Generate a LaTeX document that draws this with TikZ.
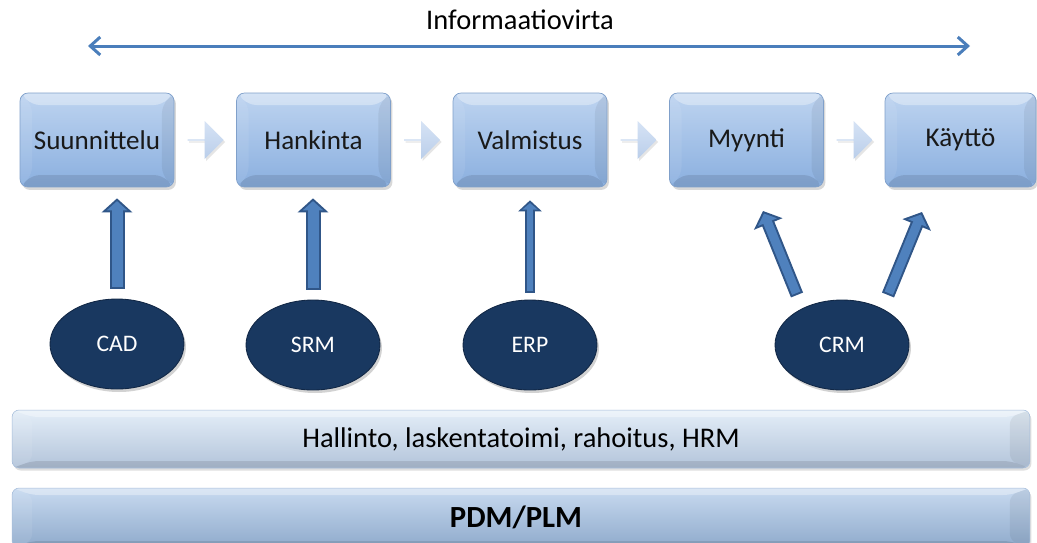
\documentclass[tikz,border=0pt]{standalone}
\usepackage{fontspec}
\setmainfont{Carlito}
\usetikzlibrary{arrows.meta,shapes.geometric,shapes.arrows,shadows,calc}

\definecolor{boxtop}{RGB}{190,212,240}
\definecolor{boxbot}{RGB}{138,175,223}
\definecolor{boxline}{RGB}{128,160,202}
\definecolor{navy}{RGB}{25,56,96}
\definecolor{navyline}{RGB}{18,40,70}
\definecolor{arrfill}{RGB}{79,129,189}
\definecolor{arrline}{RGB}{48,86,136}
\definecolor{infoblue}{RGB}{74,126,187}
\definecolor{lighttop}{RGB}{214,227,245}
\definecolor{lightbot}{RGB}{186,206,234}
\definecolor{barA}{RGB}{186,204,227}
\definecolor{barAtop}{RGB}{228,238,248}
\definecolor{barB}{RGB}{150,179,214}
\definecolor{barBtop}{RGB}{200,218,240}

\tikzset{
  bevel/.style 2 args={path picture={
    \coordinate (pNW) at (path picture bounding box.north west);
    \coordinate (pNE) at (path picture bounding box.north east);
    \coordinate (pSW) at (path picture bounding box.south west);
    \coordinate (pSE) at (path picture bounding box.south east);
    \fill[white,opacity=.35] (pNW) -- (pNE) -- ([shift={(-#1,-#2)}]pNE) -- ([shift={(#1,-#2)}]pNW) -- cycle;
    \fill[black,opacity=.10] (pSW) -- (pSE) -- ([shift={(-#1,#2)}]pSE) -- ([shift={(#1,#2)}]pSW) -- cycle;
    \fill[white,opacity=.08] (pNW) -- ([shift={(#1,-#2)}]pNW) -- ([shift={(#1,#2)}]pSW) -- (pSW) -- cycle;
    \fill[black,opacity=.06] (pNE) -- ([shift={(-#1,-#2)}]pNE) -- ([shift={(-#1,#2)}]pSE) -- (pSE) -- cycle;
  }},
  stagebox/.style={rectangle, rounded corners=0.16cm, minimum width=3.08cm,
    minimum height=1.88cm, top color=boxtop, bottom color=boxbot,
    draw=boxline, line width=0.4pt, bevel={0.24cm}{0.24cm},
    drop shadow={opacity=0.3, shadow xshift=0.04cm, shadow yshift=-0.06cm},
    font=\fontsize{15.4}{18}\selectfont, text=black!90},
  lightarrow/.style={single arrow, minimum height=0.72cm, minimum width=0.76cm,
    single arrow head extend=0.18cm, single arrow head indent=0pt, inner sep=0pt,
    top color=lighttop, bottom color=lightbot, draw=none,
    drop shadow={opacity=0.2, shadow xshift=0.03cm, shadow yshift=-0.04cm}},
  sysell/.style={ellipse, minimum width=2.68cm, minimum height=1.8cm, inner sep=0pt,
    fill=navy, draw=navyline, line width=0.5pt, text=white,
    font=\fontsize{13.5}{16}\selectfont,
    drop shadow={opacity=0.35, shadow xshift=0.04cm, shadow yshift=-0.06cm}},
  bigout/.style={draw=arrline, line width=0.3cm, -{Triangle[length=0.28cm,width=0.6cm]}},
  bigin/.style={draw=arrfill, line width=0.22cm, shorten <=0.04cm, shorten >=0.055cm,
    -{Triangle[length=0.185cm,width=0.4cm]}},
  smallout/.style={draw=arrline, line width=0.2cm, -{Triangle[length=0.22cm,width=0.46cm]}},
  smallin/.style={draw=arrfill, line width=0.12cm, shorten <=0.04cm, shorten >=0.055cm,
    -{Triangle[length=0.13cm,width=0.3cm]}},
  infarrow/.style={draw=infoblue, line width=0.06cm, line cap=round,
    {Straight Barb[length=0.2cm,width=0.36cm]}-{Straight Barb[length=0.2cm,width=0.36cm]}},
  bar/.style={rectangle, rounded corners=0.14cm, minimum width=20.36cm, inner sep=0pt,
    draw=boxline!70, line width=0.3pt,
    drop shadow={opacity=0.25, shadow xshift=0.03cm, shadow yshift=-0.05cm}},
}

\begin{document}
\begin{tikzpicture}[x=0.02cm, y=-0.02cm]
\useasboundingbox (0,0) rectangle (1037,542);
\fill[white] (0,0) rectangle (1037,542);

% information flow
\node[font=\fontsize{16.2}{19}\selectfont] (info) at (520,20) {Informaatiovirta};
\coordinate (infL) at (88,46);
\coordinate (infR) at (970,46);
\draw[infarrow] (infL) -- (infR);

% stage boxes
\node[stagebox] (suun) at (97,140) {Suunnittelu};
\node[stagebox] (hank) at (313.5,140) {Hankinta};
\node[stagebox] (valm) at (530,140) {Valmistus};
\node[stagebox] (myyn) at (746.5,140) {Myynti};
\node[stagebox, minimum width=3.02cm] (kayt) at (960.5,140) {Käyttö};

% small arrows between stages
\node[lightarrow] (a1) at ($(suun.east)!0.5!(hank.west)$) {};
\node[lightarrow] (a2) at ($(hank.east)!0.5!(valm.west)$) {};
\node[lightarrow] (a3) at ($(valm.east)!0.5!(myyn.west)$) {};
\node[lightarrow] (a4) at ($(myyn.east)!0.5!(kayt.west)$) {};

% systems
\node[sysell] (cad) at (117,344) {CAD};
\node[sysell] (srm) at (313,345) {SRM};
\node[sysell] (erp) at (530,345) {ERP};
\node[sysell] (crm) at (842,345) {CRM};

% fat arrows
\draw[bigout] ($(cad.north)+(0,0.2cm)$) -- ($(cad.north |- suun.south)+(0,-0.22cm)$);
\draw[bigin]  ($(cad.north)+(0,0.2cm)$) -- ($(cad.north |- suun.south)+(0,-0.22cm)$);
\draw[bigout] ($(srm.north)+(0,0.2cm)$) -- ($(srm.north |- hank.south)+(0,-0.22cm)$);
\draw[bigin]  ($(srm.north)+(0,0.2cm)$) -- ($(srm.north |- hank.south)+(0,-0.22cm)$);
\draw[smallout] ($(erp.north)+(0,0.14cm)$) -- ($(erp.north |- valm.south)+(0,-0.26cm)$);
\draw[smallin]  ($(erp.north)+(0,0.14cm)$) -- ($(erp.north |- valm.south)+(0,-0.26cm)$);
\coordinate (crmL) at (797,295);
\coordinate (myynT) at (763,211);
\coordinate (crmR) at (888,295);
\coordinate (kaytT) at (922,212);
\draw[bigout, line width=0.26cm] (crmL) -- (myynT);
\draw[bigin, line width=0.18cm] (crmL) -- (myynT);
\draw[bigout, line width=0.26cm] (crmR) -- (kaytT);
\draw[bigin, line width=0.18cm] (crmR) -- (kaytT);

% bars
\node[bar, minimum height=1.16cm, top color=barAtop, middle color=barA, bottom color=barA!96!black,
  bevel={0.4cm}{0.14cm}, font=\fontsize{16.2}{19}\selectfont] (hall) at (521,439)
  {Hallinto, laskentatoimi, rahoitus, HRM};
\node[bar, minimum height=1.2cm, top color=barBtop, middle color=barB, bottom color=barB!95!black,
  bevel={0.4cm}{0.14cm}] (pdm) at (521,518) {};
\node[font=\fontsize{17.5}{20}\selectfont\bfseries] (pdmtext) at (516,517) {PDM/PLM};
\end{tikzpicture}
\end{document}
